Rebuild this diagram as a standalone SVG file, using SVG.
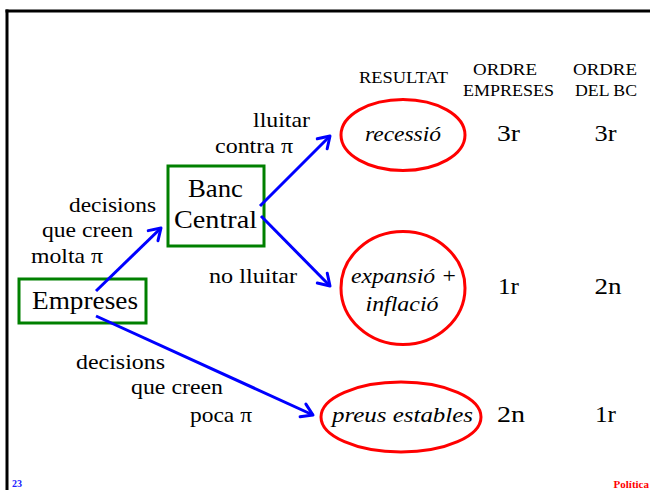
<svg xmlns="http://www.w3.org/2000/svg" width="650" height="490" viewBox="0 0 650 490">
<style>
text{font-family:"Liberation Serif","DejaVu Serif","Times New Roman",serif;fill:#000}
.node{font-size:26px}
.lab{font-size:22px}
.it{font-size:22px;font-style:italic}
.num{font-size:23px}
.hd{font-size:17.5px}
.box{fill:#fff;stroke:#008000;stroke-width:3}
.ell{fill:none;stroke:#ff0000;stroke-width:3}
.edge{stroke:#0000ff;stroke-width:3;fill:none}
.mid{text-anchor:middle}
</style>
<defs>
<marker id="arr" markerUnits="userSpaceOnUse" markerWidth="30" markerHeight="30" refX="0" refY="0" viewBox="-15 -15 30 30" orient="auto" overflow="visible">
<path d="M-11,-7 L0,0 L-11,7" fill="none" stroke="#0000ff" stroke-width="3" stroke-linecap="round" stroke-linejoin="round"/>
</marker>
</defs>
<rect width="650" height="490" fill="#fff"/>
<g id="frame">
<line x1="5.5" y1="11" x2="650" y2="11" stroke="#000" stroke-width="3"/>
<line x1="7" y1="9.5" x2="7" y2="490" stroke="#000" stroke-width="3"/>
</g>
<g id="headers">
<text class="hd mid" x="403.5" y="83" textLength="89" lengthAdjust="spacingAndGlyphs">RESULTAT</text>
<text class="hd mid" x="505" y="75" textLength="64" lengthAdjust="spacingAndGlyphs">ORDRE</text>
<text class="hd mid" x="508.5" y="96" textLength="91" lengthAdjust="spacingAndGlyphs">EMPRESES</text>
<text class="hd mid" x="605" y="75" textLength="64" lengthAdjust="spacingAndGlyphs">ORDRE</text>
<text class="hd mid" x="606" y="96" textLength="62" lengthAdjust="spacingAndGlyphs">DEL BC</text>
</g>
<g id="edge-labels">
<text class="lab mid" x="281.5" y="127" textLength="57" lengthAdjust="spacingAndGlyphs">lluitar</text>
<text class="lab mid" x="254" y="153" textLength="78" lengthAdjust="spacingAndGlyphs">contra π</text>
<text class="lab mid" x="112.5" y="212" textLength="87" lengthAdjust="spacingAndGlyphs">decisions</text>
<text class="lab mid" x="87.5" y="237" textLength="91" lengthAdjust="spacingAndGlyphs">que creen</text>
<text class="lab mid" x="67" y="263" textLength="72" lengthAdjust="spacingAndGlyphs">molta π</text>
<text class="lab mid" x="253" y="283" textLength="88" lengthAdjust="spacingAndGlyphs">no lluitar</text>
<text class="lab mid" x="120.5" y="369" textLength="89" lengthAdjust="spacingAndGlyphs">decisions</text>
<text class="lab mid" x="177" y="394" textLength="92" lengthAdjust="spacingAndGlyphs">que creen</text>
<text class="lab mid" x="221" y="422" textLength="62" lengthAdjust="spacingAndGlyphs">poca π</text>
</g>
<g id="empreses">
<rect class="box" x="19" y="279" width="127" height="44"/>
<text class="node mid" x="85" y="309" textLength="106" lengthAdjust="spacingAndGlyphs">Empreses</text>
</g>
<g id="banc-central">
<rect class="box" x="168" y="166" width="96" height="80"/>
<text class="node mid" x="215.5" y="197" textLength="55" lengthAdjust="spacingAndGlyphs">Banc</text>
<text class="node mid" x="215.5" y="228" textLength="83" lengthAdjust="spacingAndGlyphs">Central</text>
</g>
<g id="recessio">
<ellipse class="ell" cx="403" cy="135" rx="62" ry="35.5"/>
<text class="it mid" x="403" y="141" textLength="76" lengthAdjust="spacingAndGlyphs">recessió</text>
<text class="num mid" x="508.5" y="141" textLength="23" lengthAdjust="spacingAndGlyphs">3r</text>
<text class="num mid" x="605.5" y="141" textLength="22" lengthAdjust="spacingAndGlyphs">3r</text>
</g>
<g id="expansio">
<ellipse class="ell" cx="403" cy="288" rx="62" ry="56.5"/>
<text class="it mid" x="404" y="283" textLength="106" lengthAdjust="spacingAndGlyphs">expansió +</text>
<text class="it mid" x="402" y="311" textLength="73" lengthAdjust="spacingAndGlyphs">inflació</text>
<text class="num mid" x="508.5" y="294" textLength="21" lengthAdjust="spacingAndGlyphs">1r</text>
<text class="num mid" x="608" y="294" textLength="27" lengthAdjust="spacingAndGlyphs">2n</text>
</g>
<g id="preus-estables">
<ellipse class="ell" cx="401" cy="417" rx="80" ry="35"/>
<text class="it mid" x="402.5" y="422" textLength="141" lengthAdjust="spacingAndGlyphs">preus estables</text>
<text class="num mid" x="511" y="422" textLength="28" lengthAdjust="spacingAndGlyphs">2n</text>
<text class="num mid" x="605.5" y="422" textLength="21" lengthAdjust="spacingAndGlyphs">1r</text>
</g>
<g id="connectors">
<line class="edge" x1="96" y1="291" x2="161" y2="228" marker-end="url(#arr)"/>
<line class="edge" x1="260" y1="206" x2="330" y2="136" marker-end="url(#arr)"/>
<line class="edge" x1="261" y1="216" x2="330" y2="286" marker-end="url(#arr)"/>
<line class="edge" x1="96" y1="316" x2="313" y2="415" marker-end="url(#arr)"/>
</g>
<g id="footer">
<text x="12" y="487" font-size="10" font-weight="bold" style="fill:#2020ff">23</text>
<text x="649" y="488" font-size="11" font-weight="bold" text-anchor="end" style="fill:#ff0000">Política</text>
</g>
</svg>
